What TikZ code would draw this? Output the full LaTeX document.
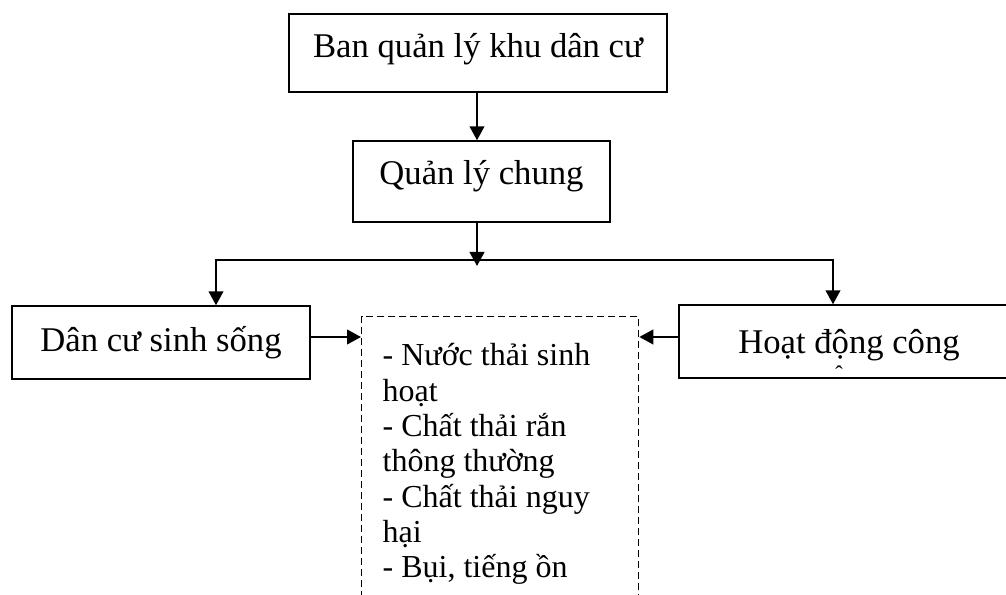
\documentclass[tikz,border=0pt]{standalone}
\usepackage{fontspec}
\setmainfont{Liberation Serif}
\usetikzlibrary{arrows.meta}
\begin{document}
\begin{tikzpicture}[x=0.75pt,y=-0.75pt,
  every node/.style={font=\fontsize{24}{26.5}\selectfont},
  box/.style={draw, line width=1.1pt, inner sep=0pt, anchor=base, font=\fontsize{26}{29}\selectfont},
  conn/.style={line width=1.6pt},
  arr/.style={conn, -{Triangle[length=10.5pt,width=11pt]}},
  dbl/.style={conn, line join=miter, {Triangle[length=10.5pt,width=11pt]}-{Triangle[length=10.5pt,width=11pt]}},
  dashbox/.style={draw, line width=1pt, dash pattern=on 5.25pt off 3pt, inner xsep=15.75pt, inner ysep=0pt, anchor=north west}]
\clip (0,0) rectangle (1006,595);
\node[box, minimum width=283.5pt, text height=32.6pt, text depth=25.9pt] (top) at (478,57.5) {Ban quản lý khu dân cư};
\node[box, minimum width=192.75pt, text height=33pt, text depth=27.75pt] (q) at (481.5,185) {Quản lý chung};
\node[box, minimum width=223.5pt, text height=33.75pt, text depth=21pt] (l) at (161,351) {Dân cư sinh sống};
\node[box, minimum width=255pt, text height=36pt, text depth=18.75pt] (r) at (849,353) {Hoạt động công};
\node[anchor=base, scale=0.7] (hat) at (839,381) {ˆ};
\node[dashbox, text height=36.75pt, text depth=200pt] (d) at (361,316) {\hbox to 176.25pt{\vtop{\baselineskip=26.5pt \hbox{- Nước thải sinh}\hbox{hoạt}\hbox{- Chất thải rắn}\hbox{thông thường}\hbox{- Chất thải nguy}\hbox{hại}\hbox{- Bụi, tiếng ồn}}\hfil}};
\coordinate (bus) at (477,260);
\coordinate (bl) at (216,260);
\coordinate (br) at (833,260);
\coordinate (bt) at (477,266);
\coordinate (ay) at (0,337);
\draw[arr] (top.south -| bus) -- (q.north -| bus);
\draw[arr] (q.south -| bus) -- (bt);
\draw[dbl] (bl |- l.north) -- (bl) -- (br) -- (br |- r.north);
\draw[arr] (l.east |- ay) -- (d.west |- ay);
\draw[arr] (r.west |- ay) -- (d.east |- ay);
\end{tikzpicture}
\end{document}
